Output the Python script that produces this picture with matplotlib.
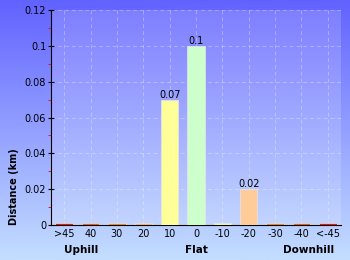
import numpy as np
import matplotlib
matplotlib.use('Agg')
import matplotlib.pyplot as plt
from matplotlib.colors import LinearSegmentedColormap

# gradient categories, uphill -> downhill
labels = ['>45', '40', '30', '20', '10', '0', '-10', '-20', '-30', '-40', '<-45']
distance = [0.001, 0.001, 0.001, 0.001, 0.07, 0.1, 0.001, 0.02, 0.001, 0.001, 0.001]
bar_colors = ['#ee1111', '#e85a1a', '#e8861e', '#f2b070', '#ffff99', '#ccffcc',
              '#f4f4a0', '#ffcc99', '#e8861e', '#e85a1a', '#ee1111']
shown = {4: '0.07', 5: '0.1', 7: '0.02'}

fig = plt.figure(figsize=(3.5, 2.6), dpi=100)

# background gradient
bg = fig.add_axes([0, 0, 1, 1], zorder=0)
cmap = LinearSegmentedColormap.from_list('bg', ['#6262ff', '#c4deff'])
bg.imshow(np.linspace(0, 1, 256).reshape(-1, 1), aspect='auto', cmap=cmap,
          extent=[0, 1, 0, 1])
bg.axis('off')

ax = fig.add_axes([51/350, 1 - 225/260, 290/350, 215/260], zorder=1)
ax.set_facecolor((1, 1, 1, 0.16))
x = np.arange(len(labels))
ax.bar(x, distance, width=0.66, color=bar_colors, edgecolor='#e6e6e6',
       linewidth=0.5, zorder=3)
for i, txt in shown.items():
    ax.text(x[i], distance[i], txt, ha='center', va='bottom', fontsize=7, zorder=4)

ax.set_xlim(-0.5, len(labels) - 0.5)
ax.set_ylim(0, 0.12)
ax.set_yticks(np.arange(0, 0.121, 0.02))
ax.set_yticklabels(['0', '0.02', '0.04', '0.06', '0.08', '0.1', '0.12'])
ax.set_yticks(np.arange(0.01, 0.12, 0.02), minor=True)
ax.set_xticks(x)
ax.set_xticklabels(labels)
ax.tick_params(axis='x', length=0, labelsize=7, pad=3)
ax.tick_params(axis='y', which='major', direction='inout', length=5, labelsize=7, pad=1)
ax.tick_params(axis='y', which='minor', length=2.5, color='red')
ax.grid(True, color='white', alpha=0.3, linestyle=(0, (4, 3)), linewidth=0.7, zorder=1)
ax.set_axisbelow(True)
for s in ['top', 'right']:
    ax.spines[s].set_visible(False)
ax.spines['left'].set_linewidth(0.8)
ax.spines['bottom'].set_linewidth(0.8)

ax.set_ylabel('Distance (km)', fontsize=7, fontweight='bold')
ax.yaxis.set_label_coords(-0.11, 0.18)

fig.text(81/350, 1 - 250/260, 'Uphill', ha='center', va='center', fontsize=7.5, fontweight='bold')
fig.text(196/350, 1 - 250/260, 'Flat', ha='center', va='center', fontsize=7.5, fontweight='bold')
fig.text(309/350, 1 - 250/260, 'Downhill', ha='center', va='center', fontsize=7.5, fontweight='bold')

fig.savefig('out.png', dpi=100)
